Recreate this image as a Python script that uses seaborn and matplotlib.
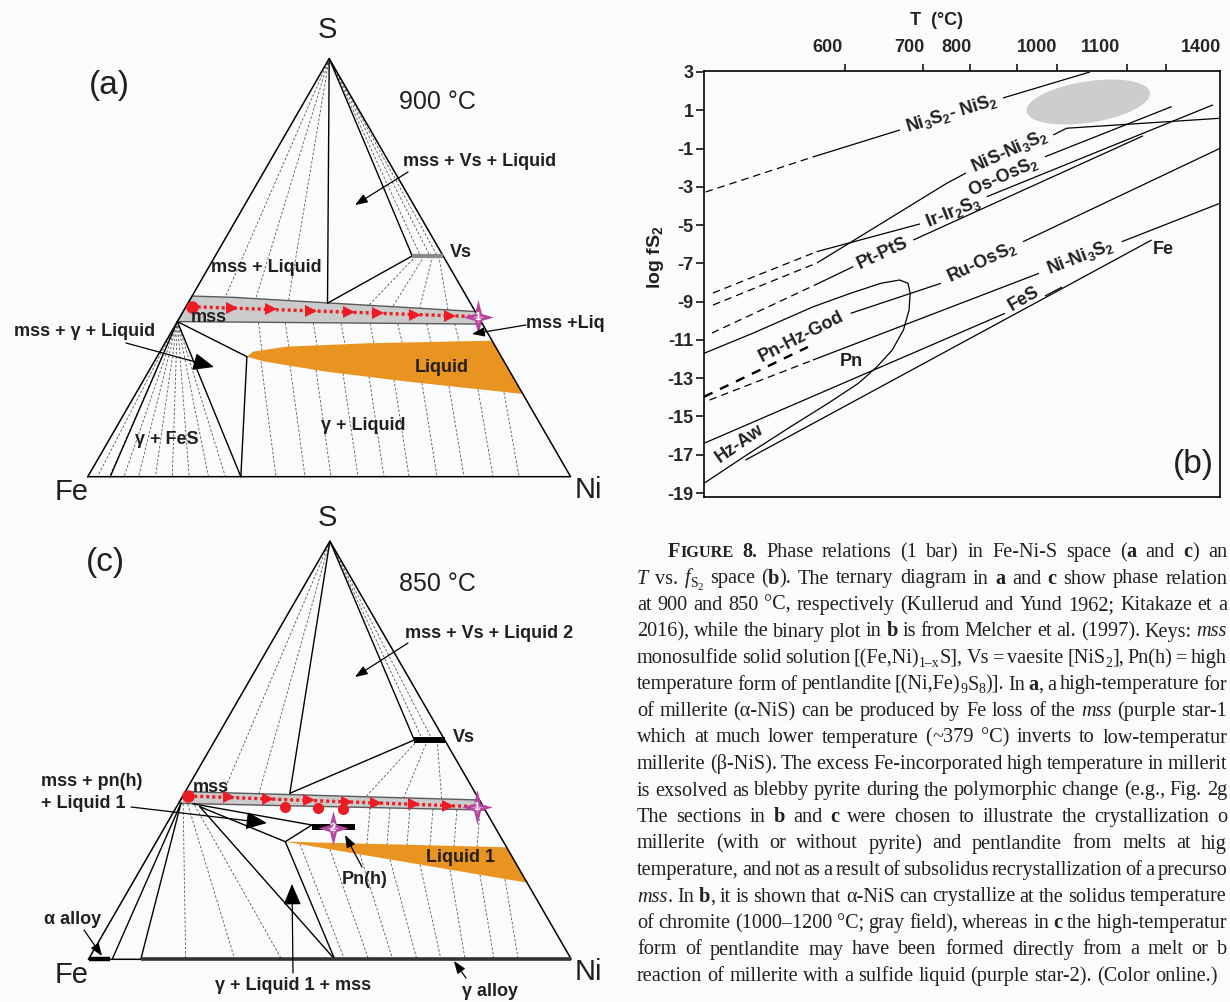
import re
import numpy as np
import pandas as pd
import matplotlib
matplotlib.use("Agg")
import matplotlib.pyplot as plt
import seaborn as sns
from matplotlib.path import Path
from matplotlib.patches import ArrowStyle

W, H = 1230, 1002

# ============================ DATA ============================
# ---------- panel (b): log fS2 versus T (deg C) ----------
T_LABEL_VALUES = [600, 700, 800, 1000, 1100, 1400]
T_MINOR_MARKS = [621, 729, 832, 950, 1031, 1178, 1295]
LOGF_TICKS = [-19, -17, -15, -13, -11, -9, -7, -5, -3, -1, 1, 3]
T_RANGE = [447, 1457]
LOGF_RANGE = [-19.19, 3.05]

ni3s2_nis2_dash_T = [449, 581.5]
ni3s2_nis2_dash_logf = [-3.27, -1.44]
ni3s2_nis2_lo_T = [581.5, 688.9]
ni3s2_nis2_lo_logf = [-1.44, -0.03]
ni3s2_nis2_hi_T = [915, 1082.8]
ni3s2_nis2_hi_logf = [1.64, 3.0]

nis_ni3s2_dash_T = [458, 586.4]
nis_ni3s2_dash_logf = [-9.18, -6.98]
nis_ni3s2_lo_T = [586.4, 778.5, 822.5]
nis_ni3s2_lo_logf = [-6.98, -2.82, -2.28]
nis_ni3s2_hi_T = [1025.5, 1046.4, 1457]
nis_ni3s2_hi_logf = [-0.29, 0.06, 0.58]

os_oss2_T = [1012.5, 1312]
os_oss2_logf = [-1.43, 1.19]

ir_ir2s3_dash_T = [458, 586]
ir_ir2s3_dash_logf = [-8.55, -6.39]
ir_ir2s3_lo_T = [586, 722.9]
ir_ir2s3_lo_logf = [-6.39, -4.94]
ir_ir2s3_hi_T = [874.3, 1436]
ir_ir2s3_hi_logf = [-3.52, 1.28]

pt_pts_dash_T = [456.8, 584]
pt_pts_dash_logf = [-10.64, -8.13]
pt_pts_lo_T = [584, 631.2]
pt_pts_lo_logf = [-8.13, -7.17]
pt_pts_hi_T = [709, 1226]
pt_pts_hi_logf = [-5.78, -0.34]

pn_hz_god_dash_T = [447, 575.3]
pn_hz_god_dash_logf = [-13.97, -11.37]
ru_oss2_lo_T = [628.1, 766.7]
ru_oss2_lo_logf = [-9.61, -8.04]
ru_oss2_hi_T = [965, 1457]
ru_oss2_hi_logf = [-5.87, -0.99]

ni_ni3s2_dash_T = [453.8, 581.5]
ni_ni3s2_dash_logf = [-14.14, -12.05]
ni_ni3s2_lo_T = [581.5, 1003.1]
ni_ni3s2_lo_logf = [-12.05, -7.52]
ni_ni3s2_hi_T = [1162.1, 1457]
ni_ni3s2_hi_logf = [-5.87, -3.86]

hz_aw_T = [447, 920]
hz_aw_logf = [-16.40, -9.61]
hz_aw_hi_T = [1012.5, 1039]
hz_aw_hi_logf = [-8.71, -8.24]

fe_fes_T = [498, 1252]
fe_fes_logf = [-17.28, -5.78]

pn_loop_T = [447, 507.3, 581.6, 628.1, 665.3, 688.5, 698.8, 702.5, 700.2,
             693.2, 679.3, 660.6, 637.4, 600.2, 553.7, 502.6, 447]
pn_loop_logf = [-11.70, -10.65, -9.27, -8.56, -8.04, -7.87, -8.04, -8.56, -9.44,
                -10.48, -11.53, -12.40, -13.27, -14.31, -15.54, -16.93, -18.49]

gray_field_T = [974, 1247]          # chromite solidus field, T extent
gray_field_logf_center = 1.43
gray_field_logf_half = 1.09
gray_field_logf_tilt = 0.44

b_label_text = ["Ni$_3$S$_2$- NiS$_2$", "NiS-Ni$_3$S$_2$", "Os-OsS$_2$", "Ir-Ir$_2$S$_3$",
                "Pt-PtS", "Ru-OsS$_2$", "Pn-Hz-God", "Ni-Ni$_3$S$_2$", "FeS", "Fe",
                "Hz-Aw", "Pn"]
b_label_T = [788.5, 932.5, 915, 791.7, 667.9, 862.5, 567.7, 1067.2, 967.5, 1286, 491.1, 628.4]
b_label_logf = [0.81, -1.16, -2.49, -4.32, -6.46, -6.96, -10.83, -6.67, -8.84, -6.30, -16.40, -12.15]
b_label_rot = [17, 24, 24, 22, 25, 25, 27, 21, 30, 0, 35, 0]

# ---------- panels (a) and (c): Fe-Ni-S ternary (Ni, S mass fractions) ----------
# (a) 900 C
a_vert_end = (0.289, 0.415)
a_vs_bar_ni = [0.408, 0.472]
a_vs_bar_s = 0.528
a_mss_ni = [0.0, 0.0, 0.086, 0.605, 0.635]
a_mss_s = [0.371, 0.432, 0.429, 0.395, 0.365]
a_liq_ni = [0.186, 0.1927, 0.2544, 0.4194, 0.6747, 0.8022, 0.55, 0.3688, 0.2301]
a_liq_s = [0.287, 0.299, 0.3109, 0.3191, 0.3253, 0.1978, 0.2272, 0.2511, 0.2751]
a_mss_corner = (0.0, 0.371)
a_gamma_point = (0.317, 0.0)
a_inner_base = (0.0464, 0.0)
a_path_start = (0.012, 0.4066)
a_path_end = (0.616, 0.3827)
a_tie_apex_ni = [0.07, 0.135, 0.205]
a_tie_apex_s = [0.429, 0.426, 0.422]
a_tie_apex_vs_ni = [0.425, 0.445, 0.46]
a_tie_vs_top_ni = [0.416, 0.433, 0.450, 0.463]
a_tie_vs_bot_ni = [0.377, 0.428, 0.486, 0.5465]
a_tie_vs_bot_s = [0.41, 0.406, 0.403, 0.399]
a_tie_ml_top_ni = [0.169, 0.225, 0.283, 0.341, 0.401, 0.459, 0.519, 0.577]
a_tie_ml_top_s = [0.369, 0.368, 0.368, 0.367, 0.367, 0.366, 0.366, 0.366]
a_tie_ml_bot_ni = [0.2105, 0.2622, 0.3178, 0.3746, 0.4335, 0.4903, 0.5497, 0.6071]
a_tie_ml_bot_s = [0.3006, 0.309, 0.3138, 0.3162, 0.3186, 0.321, 0.3222, 0.3234]
a_tie_lg_top_ni = [0.2208, 0.2852, 0.3451, 0.4049, 0.4626, 0.518, 0.5801, 0.64, 0.7037, 0.7609]
a_tie_lg_top_s = [0.2758, 0.2672, 0.2552, 0.2473, 0.2397, 0.2325, 0.2241, 0.2162, 0.209, 0.2021]
a_tie_lg_bot_ni = [0.3898, 0.4499, 0.5037, 0.5597, 0.6135, 0.6653, 0.7233, 0.7792, 0.8393, 0.8932]
a_tie_fes_ni = [0.02, 0.045, 0.075, 0.105, 0.14, 0.175, 0.21, 0.25, 0.285]

# (c) 850 C
c_line_end = (0.2185, 0.397)
c_vs_bar_ni = [0.4125, 0.4755]
c_vs_bar_s = 0.5245
c_mss_ni = [0.0, 0.0, 0.619, 0.643]
c_mss_s = [0.373, 0.401, 0.381, 0.357]
c_liq_ni = [0.267, 0.7321, 0.8168]
c_liq_s = [0.2813, 0.2679, 0.1832]
c_pn_bar_ni = [0.304, 0.394]
c_pn_bar_s = 0.3164
c_star2 = (0.3484, 0.3148)
c_path_start = (0.0114, 0.3906)
c_path_end = (0.6216, 0.365)
c_dots_ni = [0.2245, 0.2947, 0.3484]
c_dots_s = [0.365, 0.3626, 0.3588]
c_solid_from = [(0.03, 0.372), (0.048, 0.365), (0.267, 0.2813), (0.048, 0.365), (0.267, 0.2813),
                (0.005, 0.373), (0.005, 0.373)]
c_solid_to = [(0.302, 0.3212), (0.267, 0.2813), (0.302, 0.3212), (0.51, 0.0), (0.51, 0.0),
              (0.049, 0.0), (0.1083, 0.0)]
c_alpha_bar_ni = [0.0, 0.045]
c_gamma_bar_ni = [0.108, 1.0]
c_tie_apex_ni = [0.08, 0.155]
c_tie_apex_s = [0.398, 0.396]
c_tie_apex_vs_ni = [0.43, 0.45]
c_tie_vs_top_ni = [0.42, 0.44, 0.46]
c_tie_vs_bot_ni = [0.38, 0.46, 0.54]
c_tie_vs_bot_s = [0.388, 0.386, 0.383]
c_tie_mg_top_ni = [0.01, 0.02, 0.035]
c_tie_mg_top_s = [0.372, 0.371, 0.369]
c_tie_mg_bot_ni = [0.2013, 0.3028, 0.40]
c_tie_ml_top_ni = [0.4017, 0.4435, 0.4855, 0.5337, 0.584, 0.6323]
c_tie_ml_top_s = [0.3628, 0.3619, 0.3607, 0.3595, 0.3583, 0.3571]
c_tie_ml_bot_ni = [0.4387, 0.4808, 0.5228, 0.5712, 0.6216, 0.6699]
c_tie_ml_bot_s = [0.2762, 0.2751, 0.2739, 0.2724, 0.271, 0.2696]
c_tie_lg_top_ni = [0.3004, 0.3686, 0.4368, 0.5051, 0.5733, 0.6416, 0.7098, 0.7668]
c_tie_lg_top_s = [0.2753, 0.2631, 0.2509, 0.2387, 0.2265, 0.2143, 0.2021, 0.1918]
c_tie_lg_bot_ni = [0.53, 0.58, 0.63, 0.68, 0.73, 0.78, 0.84, 0.89]

path_arrow_fracs = [0.14, 0.278, 0.418, 0.549, 0.652, 0.782, 0.902]

# caption lines as visible in the reference (the column is cropped at the right)
CAPTION_LINES = [
    "**F~{IGURE} 8.** Phase relations (1 bar) in Fe-Ni-S space (**a** and **c**) an",
    "*T* vs. *f*_{S}__{2} space (**b**). The ternary diagram in **a** and **c** show phase relation",
    "at 900 and 850 °C, respectively (Kullerud and Yund 1962; Kitakaze et a",
    "2016), while the binary plot in **b** is from Melcher et al. (1997). Keys: *mss*",
    "monosulfide solid solution [(Fe,Ni)_{1–x}S], Vs = vaesite [NiS_{2}], Pn(h) = high",
    "temperature form of pentlandite [(Ni,Fe)_{9}S_{8})]. In **a**, a high-temperature for",
    "of millerite (α-NiS) can be produced by Fe loss of the *mss* (purple star-1",
    "which at much lower temperature (~379 °C) inverts to low-temperatur",
    "millerite (β-NiS). The excess Fe-incorporated high temperature in millerit",
    "is exsolved as blebby pyrite during the polymorphic change (e.g., Fig. 2g",
    "The sections in **b** and **c** were chosen to illustrate the crystallization o",
    "millerite (with or without pyrite) and pentlandite from melts at hig",
    "temperature, and not as a result of subsolidus recrystallization of a precurso",
    "*mss*. In **b**, it is shown that α-NiS can crystallize at the solidus temperature",
    "of chromite (1000–1200 °C; gray field), whereas in **c** the high-temperatur",
    "form of pentlandite may have been formed directly from a melt or b",
    "reaction of millerite with a sulfide liquid (purple star-2). (Color online.)",
]

# ============================ STYLE ============================
sns.set_theme(style="white")
plt.rcParams["font.family"] = ["Liberation Sans", "DejaVu Sans"]
plt.rcParams["mathtext.fontset"] = "custom"
plt.rcParams["mathtext.rm"] = "Liberation Sans:bold"
plt.rcParams["mathtext.it"] = "Liberation Sans:bold:italic"
plt.rcParams["mathtext.bf"] = "Liberation Sans:bold"
plt.rcParams["mathtext.default"] = "rm"
plt.rcParams["axes.unicode_minus"] = False

BG = "#fafbfd"
RED = "#ec1c24"
STAR_C = "#b4479d"
ORANGE = "#e99421"
BAND = "#cbcbcb"
TIE = "#555555"

fig = plt.figure(figsize=(W / 100, H / 100), dpi=100, facecolor=BG)

# ============================ PANEL (b) ============================
T_AXIS_POS = [828, 909, 957, 1037, 1101, 1201]


def _ext_interp(x, xp, fp):
    x = np.asarray(x, dtype=float)
    xp = np.asarray(xp, dtype=float)
    fp = np.asarray(fp, dtype=float)
    y = np.interp(x, xp, fp)
    lo = (fp[1] - fp[0]) / (xp[1] - xp[0])
    hi = (fp[-1] - fp[-2]) / (xp[-1] - xp[-2])
    y = np.where(x < xp[0], fp[0] + (x - xp[0]) * lo, y)
    y = np.where(x > xp[-1], fp[-1] + (x - xp[-1]) * hi, y)
    return y


def t_fwd(T):
    return _ext_interp(T, T_LABEL_VALUES, T_AXIS_POS)


def t_inv(u):
    return _ext_interp(u, T_AXIS_POS, T_LABEL_VALUES)


ax_b = fig.add_axes([704 / W, 1 - 496.7 / H, 516 / W, 425.7 / H])
ax_b.set_facecolor(BG)
ax_b.set_xscale("function", functions=(t_fwd, t_inv))

B_SEGMENTS = [
    (ni3s2_nis2_dash_T, ni3s2_nis2_dash_logf, "dash"),
    (ni3s2_nis2_lo_T, ni3s2_nis2_lo_logf, "solid"),
    (ni3s2_nis2_hi_T, ni3s2_nis2_hi_logf, "solid"),
    (nis_ni3s2_dash_T, nis_ni3s2_dash_logf, "dash"),
    (nis_ni3s2_lo_T, nis_ni3s2_lo_logf, "solid"),
    (nis_ni3s2_hi_T, nis_ni3s2_hi_logf, "solid"),
    (os_oss2_T, os_oss2_logf, "solid"),
    (ir_ir2s3_dash_T, ir_ir2s3_dash_logf, "dash"),
    (ir_ir2s3_lo_T, ir_ir2s3_lo_logf, "solid"),
    (ir_ir2s3_hi_T, ir_ir2s3_hi_logf, "solid"),
    (pt_pts_dash_T, pt_pts_dash_logf, "dash"),
    (pt_pts_lo_T, pt_pts_lo_logf, "solid"),
    (pt_pts_hi_T, pt_pts_hi_logf, "solid"),
    (pn_hz_god_dash_T, pn_hz_god_dash_logf, "bold"),
    (ru_oss2_lo_T, ru_oss2_lo_logf, "solid"),
    (ru_oss2_hi_T, ru_oss2_hi_logf, "solid"),
    (ni_ni3s2_dash_T, ni_ni3s2_dash_logf, "dash"),
    (ni_ni3s2_lo_T, ni_ni3s2_lo_logf, "solid"),
    (ni_ni3s2_hi_T, ni_ni3s2_hi_logf, "solid"),
    (hz_aw_T, hz_aw_logf, "solid"),
    (hz_aw_hi_T, hz_aw_hi_logf, "solid"),
    (fe_fes_T, fe_fes_logf, "solid"),
    (pn_loop_T, pn_loop_logf, "solid"),
]
LINE_STYLES = {"solid": ((0, ()), 0.9), "dash": ((0, (6, 4)), 0.9), "bold": ((0, (4, 3.5)), 1.7)}

# gray field (ellipse in axis-position space)
u_lo, u_hi = t_fwd(gray_field_T)
uc, ua = (u_lo + u_hi) / 2, (u_hi - u_lo) / 2
th = np.linspace(0, 2 * np.pi, 200)
ax_b.fill(t_inv(uc + ua * np.cos(th)),
          gray_field_logf_center + gray_field_logf_half * np.sin(th) + gray_field_logf_tilt * np.cos(th),
          color="#cdcdcd", lw=0, zorder=0.5)

for T, f, kind in B_SEGMENTS:
    ls, lw = LINE_STYLES[kind]
    df = pd.DataFrame({"T": T, "logf": f})
    sns.lineplot(data=df, x="T", y="logf", ax=ax_b, sort=False, estimator=None,
                 errorbar=None, color="black", lw=lw, linestyle=ls)

for s, T, f, r in zip(b_label_text, b_label_T, b_label_logf, b_label_rot):
    ax_b.text(T, f, s, rotation=r, rotation_mode="anchor", ha="center", va="center",
              fontsize=13, fontweight="bold", color="#231f20")

ax_b.set_xlim(T_RANGE)
ax_b.set_ylim(LOGF_RANGE)
ax_b.set_xlabel("")
ax_b.set_ylabel("")
ax_b.xaxis.tick_top()
ax_b.set_xticks(T_LABEL_VALUES)
ax_b.set_xticklabels([str(v) for v in T_LABEL_VALUES])
ax_b.set_xticks(T_MINOR_MARKS, minor=True)
ax_b.tick_params(axis="x", which="major", length=0, pad=11, labelsize=13,
                 top=True, bottom=False, labeltop=True, labelbottom=False)
ax_b.tick_params(axis="x", which="minor", length=5, width=1.1, direction="out",
                 top=True, bottom=False, color="black")
ax_b.set_yticks(LOGF_TICKS)
ax_b.set_yticklabels([str(v) for v in LOGF_TICKS])
ax_b.tick_params(axis="y", length=5.5, width=1.1, direction="out", left=True,
                 labelsize=13, pad=2, color="black")
for lab_ in ax_b.get_xticklabels() + ax_b.get_yticklabels():
    lab_.set_fontweight("bold")
for sp in ax_b.spines.values():
    sp.set_color("black")
    sp.set_linewidth(1.2)

# ============================ TERNARIES ============================
SC = 482.8
SQ3 = np.sqrt(3) / 2


def tern(ni, s):
    ni = np.asarray(ni, dtype=float)
    s = np.asarray(s, dtype=float)
    return ni + s / 2, s * SQ3


def tern_axes(left, top, width, height, fe_px, base_py):
    ax = fig.add_axes([left / W, 1 - (top + height) / H, width / W, height / H])
    ax.set_xlim((left - fe_px) / SC, (left + width - fe_px) / SC)
    ax.set_ylim((base_py - (top + height)) / SC, (base_py - top) / SC)
    ax.axis("off")
    ax.patch.set_alpha(0)
    return ax


def seg(ax, p, q, **kw):
    x, y = tern([p[0], q[0]], [p[1], q[1]])
    ax.plot(x, y, **kw)


def ties(ax, ni1, s1, ni2, s2):
    n = len(ni1)
    s1 = s1 if np.ndim(s1) else [s1] * n
    s2 = s2 if np.ndim(s2) else [s2] * n
    ni2 = ni2 if np.ndim(ni2) else [ni2] * n
    for a1, b1, a2, b2 in zip(ni1, s1, ni2, s2):
        seg(ax, (a1, b1), (a2, b2), color=TIE, lw=0.6, ls=(0, (3, 2.2)), zorder=1)


def star_path(rx=0.88, ry=1.0, ri=0.2):
    verts = [(0, ry), (ri, ri), (rx, 0), (ri, -ri), (0, -ry), (-ri, -ri), (-rx, 0), (-ri, ri), (0, ry)]
    codes = [Path.MOVETO] + [Path.LINETO] * 7 + [Path.CLOSEPOLY]
    return Path(verts, codes)


STAR = star_path()


def star(ax, p, label):
    x, y = tern(p[0], p[1])
    ax.plot([x], [y], ls="none", marker=STAR, ms=25, color=STAR_C, mew=0, zorder=8)
    ax.plot([x], [y], ls="none", marker=STAR, ms=10, color="#dc8bcf", mew=0, zorder=8)
    ax.text(x, y, label, color="white", fontsize=8, fontweight="bold", ha="center",
            va="center", zorder=9)


def red_path(ax, p, q):
    x, y = tern([p[0], q[0]], [p[1], q[1]])
    ax.plot(x, y, color=RED, lw=2.4, ls=(0, (0.9, 0.9)), zorder=6)
    fr = np.asarray(path_arrow_fracs)
    ax.plot(x[0] + (x[1] - x[0]) * fr, y[0] + (y[1] - y[0]) * fr, ls="none", marker=">",
            ms=8, color=RED, mew=0, zorder=7)
    ax.plot([x[0]], [y[0]], ls="none", marker="o", ms=9, color=RED, mew=0, zorder=7)


def frame(ax):
    x, y = tern([0, 1, 0, 0], [0, 0, 1, 0])
    ax.plot(x, y, color="black", lw=1.1, zorder=4, solid_joinstyle="miter")


K = dict(color="black", lw=1.0, zorder=4)
APEX = (0.0, 1.0)

# ---- (a) ----
ax_a = tern_axes(0, 0, 640, 500, 87.8, 476.7)
ties(ax_a, [0.0] * 3, 1.0, a_tie_apex_ni, a_tie_apex_s)
ties(ax_a, [0.0] * 3, 1.0, a_tie_apex_vs_ni, a_vs_bar_s)
ties(ax_a, a_tie_vs_top_ni, a_vs_bar_s, a_tie_vs_bot_ni, a_tie_vs_bot_s)
ties(ax_a, a_tie_ml_top_ni, a_tie_ml_top_s, a_tie_ml_bot_ni, a_tie_ml_bot_s)
ties(ax_a, a_tie_lg_top_ni, a_tie_lg_top_s, a_tie_lg_bot_ni, 0.0)
ties(ax_a, [a_mss_corner[0]] * len(a_tie_fes_ni), a_mss_corner[1], a_tie_fes_ni, 0.0)
x, y = tern(a_mss_ni, a_mss_s)
ax_a.fill(x, y, facecolor=BAND, edgecolor="#5a5a5a", lw=1.0, zorder=3)
x, y = tern(a_liq_ni, a_liq_s)
ax_a.fill(x, y, facecolor=ORANGE, edgecolor="none", zorder=3)
seg(ax_a, APEX, a_vert_end, **K)
seg(ax_a, APEX, (a_vs_bar_ni[0], a_vs_bar_s), **K)
seg(ax_a, (a_vs_bar_ni[0], a_vs_bar_s), a_vert_end, **K)
seg(ax_a, a_mss_corner, (a_liq_ni[0], a_liq_s[0]), **K)
seg(ax_a, (a_liq_ni[0], a_liq_s[0]), a_gamma_point, **K)
seg(ax_a, a_mss_corner, a_gamma_point, **K)
seg(ax_a, a_mss_corner, a_inner_base, **K)
x, y = tern(a_vs_bar_ni, [a_vs_bar_s] * 2)
ax_a.plot(x, y, color="#8a8a8a", lw=3, zorder=5, solid_capstyle="butt")
frame(ax_a)
red_path(ax_a, a_path_start, a_path_end)
star(ax_a, a_path_end, "1")

# ---- (c) ----
ax_c = tern_axes(0, 500, 640, 502, 88.5, 959.3)
ties(ax_c, [0.0] * 2, 1.0, c_tie_apex_ni, c_tie_apex_s)
ties(ax_c, [0.0] * 2, 1.0, c_tie_apex_vs_ni, c_vs_bar_s)
ties(ax_c, c_tie_vs_top_ni, c_vs_bar_s, c_tie_vs_bot_ni, c_tie_vs_bot_s)
ties(ax_c, c_tie_mg_top_ni, c_tie_mg_top_s, c_tie_mg_bot_ni, 0.0)
ties(ax_c, c_tie_ml_top_ni, c_tie_ml_top_s, c_tie_ml_bot_ni, c_tie_ml_bot_s)
ties(ax_c, c_tie_lg_top_ni, c_tie_lg_top_s, c_tie_lg_bot_ni, 0.0)
x, y = tern(c_mss_ni, c_mss_s)
ax_c.fill(x, y, facecolor=BAND, edgecolor="#5a5a5a", lw=1.0, zorder=3)
x, y = tern(c_liq_ni, c_liq_s)
ax_c.fill(x, y, facecolor=ORANGE, edgecolor="none", zorder=3)
seg(ax_c, APEX, c_line_end, **K)
seg(ax_c, APEX, (c_vs_bar_ni[0], c_vs_bar_s), **K)
seg(ax_c, (c_vs_bar_ni[0], c_vs_bar_s), c_line_end, **K)
for p, q in zip(c_solid_from, c_solid_to):
    seg(ax_c, p, q, **K)
x, y = tern(c_vs_bar_ni, [c_vs_bar_s] * 2)
ax_c.plot(x, y, color="black", lw=4.3, zorder=5, solid_capstyle="butt")
x, y = tern(c_alpha_bar_ni, [0, 0])
ax_c.plot(x, y, color="black", lw=3.2, zorder=5, solid_capstyle="butt")
x, y = tern(c_gamma_bar_ni, [0, 0])
ax_c.plot(x, y, color="#333333", lw=2.6, zorder=5, solid_capstyle="butt")
frame(ax_c)
x, y = tern(c_pn_bar_ni, [c_pn_bar_s] * 2)
ax_c.plot(x, y, color="black", lw=4.3, zorder=6, solid_capstyle="butt")
red_path(ax_c, c_path_start, c_path_end)
x, y = tern(c_dots_ni, c_dots_s)
ax_c.plot(x, y, ls="none", marker="o", ms=8, color=RED, mew=0, zorder=7)
star(ax_c, c_path_end, "1")
star(ax_c, c_star2, "2")

# ============================ OVERLAY: labels, arrows, caption ============================
ov = fig.add_axes([0, 0, 1, 1])
ov.set_xlim(0, W)
ov.set_ylim(H, 0)
ov.axis("off")
ov.patch.set_alpha(0)
INK = "#231f20"


def lab(x, y, s, size=13, bold=True, **kw):
    kw.setdefault("ha", "center")
    kw.setdefault("va", "center")
    ov.text(x, y, s, fontsize=size, fontweight="bold" if bold else "normal", color=INK, **kw)


def arrow(x1, y1, x2, y2, big=False):
    if big:
        st = ArrowStyle("-|>", head_length=1.0, head_width=0.42)
        ms = 13
    else:
        st = ArrowStyle("-|>", head_length=0.75, head_width=0.28)
        ms = 10
    ov.annotate("", xy=(x2, y2), xytext=(x1, y1),
                arrowprops=dict(arrowstyle=st, color="black", lw=0.9, mutation_scale=ms,
                                shrinkA=0, shrinkB=0))


# panel (a)
lab(327, 30, "S", 21, False)
lab(72, 492, "Fe", 21, False)
lab(588, 490, "Ni", 21, False)
lab(109, 85, "(a)", 24, False)
lab(437, 102, "900 °C", 18, False)
lab(480, 161, "mss + Vs + Liquid")
arrow(408, 172, 355, 205)
lab(461, 252, "Vs")
lab(266, 268, "mss + Liquid")
lab(209, 317, "mss")
lab(85, 331, "mss + γ + Liquid")
arrow(126, 343, 214, 367, big=True)
lab(442, 367, "Liquid")
lab(363, 426, "γ + Liquid")
lab(167, 439, "γ + FeS")
lab(526, 323, "mss +Liq", ha="left")
arrow(526, 325, 472, 334)

# panel (c)
lab(327, 518, "S", 21, False)
lab(72, 975, "Fe", 21, False)
lab(588, 972, "Ni", 21, False)
lab(105, 563, "(c)", 24, False)
lab(437, 584, "850 °C", 18, False)
lab(489, 633, "mss + Vs + Liquid 2")
arrow(408, 643, 355, 677)
lab(464, 737, "Vs")
lab(211, 788, "mss")
lab(41, 782, "mss + pn(h)", ha="left")
lab(41, 804, "+ Liquid 1", ha="left")
arrow(131, 807, 267, 823, big=True)
lab(461, 857, "Liquid 1")
lab(365, 879, "Pn(h)")
arrow(362, 867, 345, 835)
lab(73, 919, "α alloy")
arrow(84, 930, 102, 956)
lab(293, 986, "γ + Liquid 1 + mss")
arrow(293, 973, 292, 884, big=True)
lab(490, 992, "γ alloy")
arrow(466, 978, 454, 961)

# panel (b) axis titles
lab(937, 20, "T  (°C)", 13)
lab(656, 257, "log fS$_2$", 14, rotation=90)
lab(1193, 464, "(b)", 24, False)

# ---- caption with justified lines ----
CAP_SIZE = 14.6
CAP_LEFT, CAP_RIGHT, CAP_INDENT = 637, 1227, 668
CAP_BASE0, CAP_LEAD = 557, 26.5
SCRIPT = {None: (1.0, 0.0), "sub": (0.68, -3.8), "subsub": (0.55, -7.0),
          "sup": (0.68, 6.5), "sc": (0.8, 0.0)}


def parse_markup(s):
    toks = re.findall(r"\*\*|\*|__\{|_\{|\^\{|~\{|\}|[^*_^{}~]+|[*_^{}~]", s)
    bold = italic = False
    script = None
    pieces = []
    for t in toks:
        if t == "**":
            bold = not bold
        elif t == "*":
            italic = not italic
        elif t == "__{":
            script = "subsub"
        elif t == "_{":
            script = "sub"
        elif t == "^{":
            script = "sup"
        elif t == "~{":
            script = "sc"
        elif t == "}":
            script = None
        else:
            pieces.append((t, bold, italic, script))
    words = [[]]
    for text, b, it, sc in pieces:
        parts = text.split(" ")
        for k, p in enumerate(parts):
            if k > 0:
                words.append([])
            if p:
                words[-1].append((p, b, it, sc))
    return [w for w in words if w]


renderer = fig.canvas.get_renderer()


def build_words(words, y, size):
    objs_all, widths = [], []
    for w in words:
        objs, tot = [], 0.0
        for text, b, it, sc in w:
            f, dy = SCRIPT[sc]
            t = ov.text(0, y - dy * size / CAP_SIZE, text, fontsize=size * f,
                        family="Liberation Serif",
                        fontweight="bold" if b else "normal",
                        fontstyle="italic" if it else "normal",
                        va="baseline", ha="left", color=INK)
            wd = t.get_window_extent(renderer).width
            objs.append((t, tot))
            tot += wd
        objs_all.append(objs)
        widths.append(tot)
    return objs_all, widths


for i, line in enumerate(CAPTION_LINES):
    words = parse_markup(line)
    y = CAP_BASE0 + i * CAP_LEAD
    x0 = CAP_INDENT if i == 0 else CAP_LEFT
    size = CAP_SIZE
    objs_all, widths = build_words(words, y, size)
    space = 0.25 * size * 100 / 72
    avail = CAP_RIGHT - x0
    natural = sum(widths) + (len(words) - 1) * 0.5 * space
    if natural > avail:
        for objs in objs_all:
            for t, _ in objs:
                t.remove()
        size = size * avail / natural
        objs_all, widths = build_words(words, y, size)
        space = 0.25 * size * 100 / 72
    justify = i < len(CAPTION_LINES) - 1 and len(words) > 1
    if justify:
        gap = (avail - sum(widths)) / (len(words) - 1)
    else:
        gap = space
    x = x0
    for objs, wd in zip(objs_all, widths):
        for t, off in objs:
            t.set_x(x + off)
        x += wd + gap

fig.savefig("out.png", dpi=100, facecolor=BG)
